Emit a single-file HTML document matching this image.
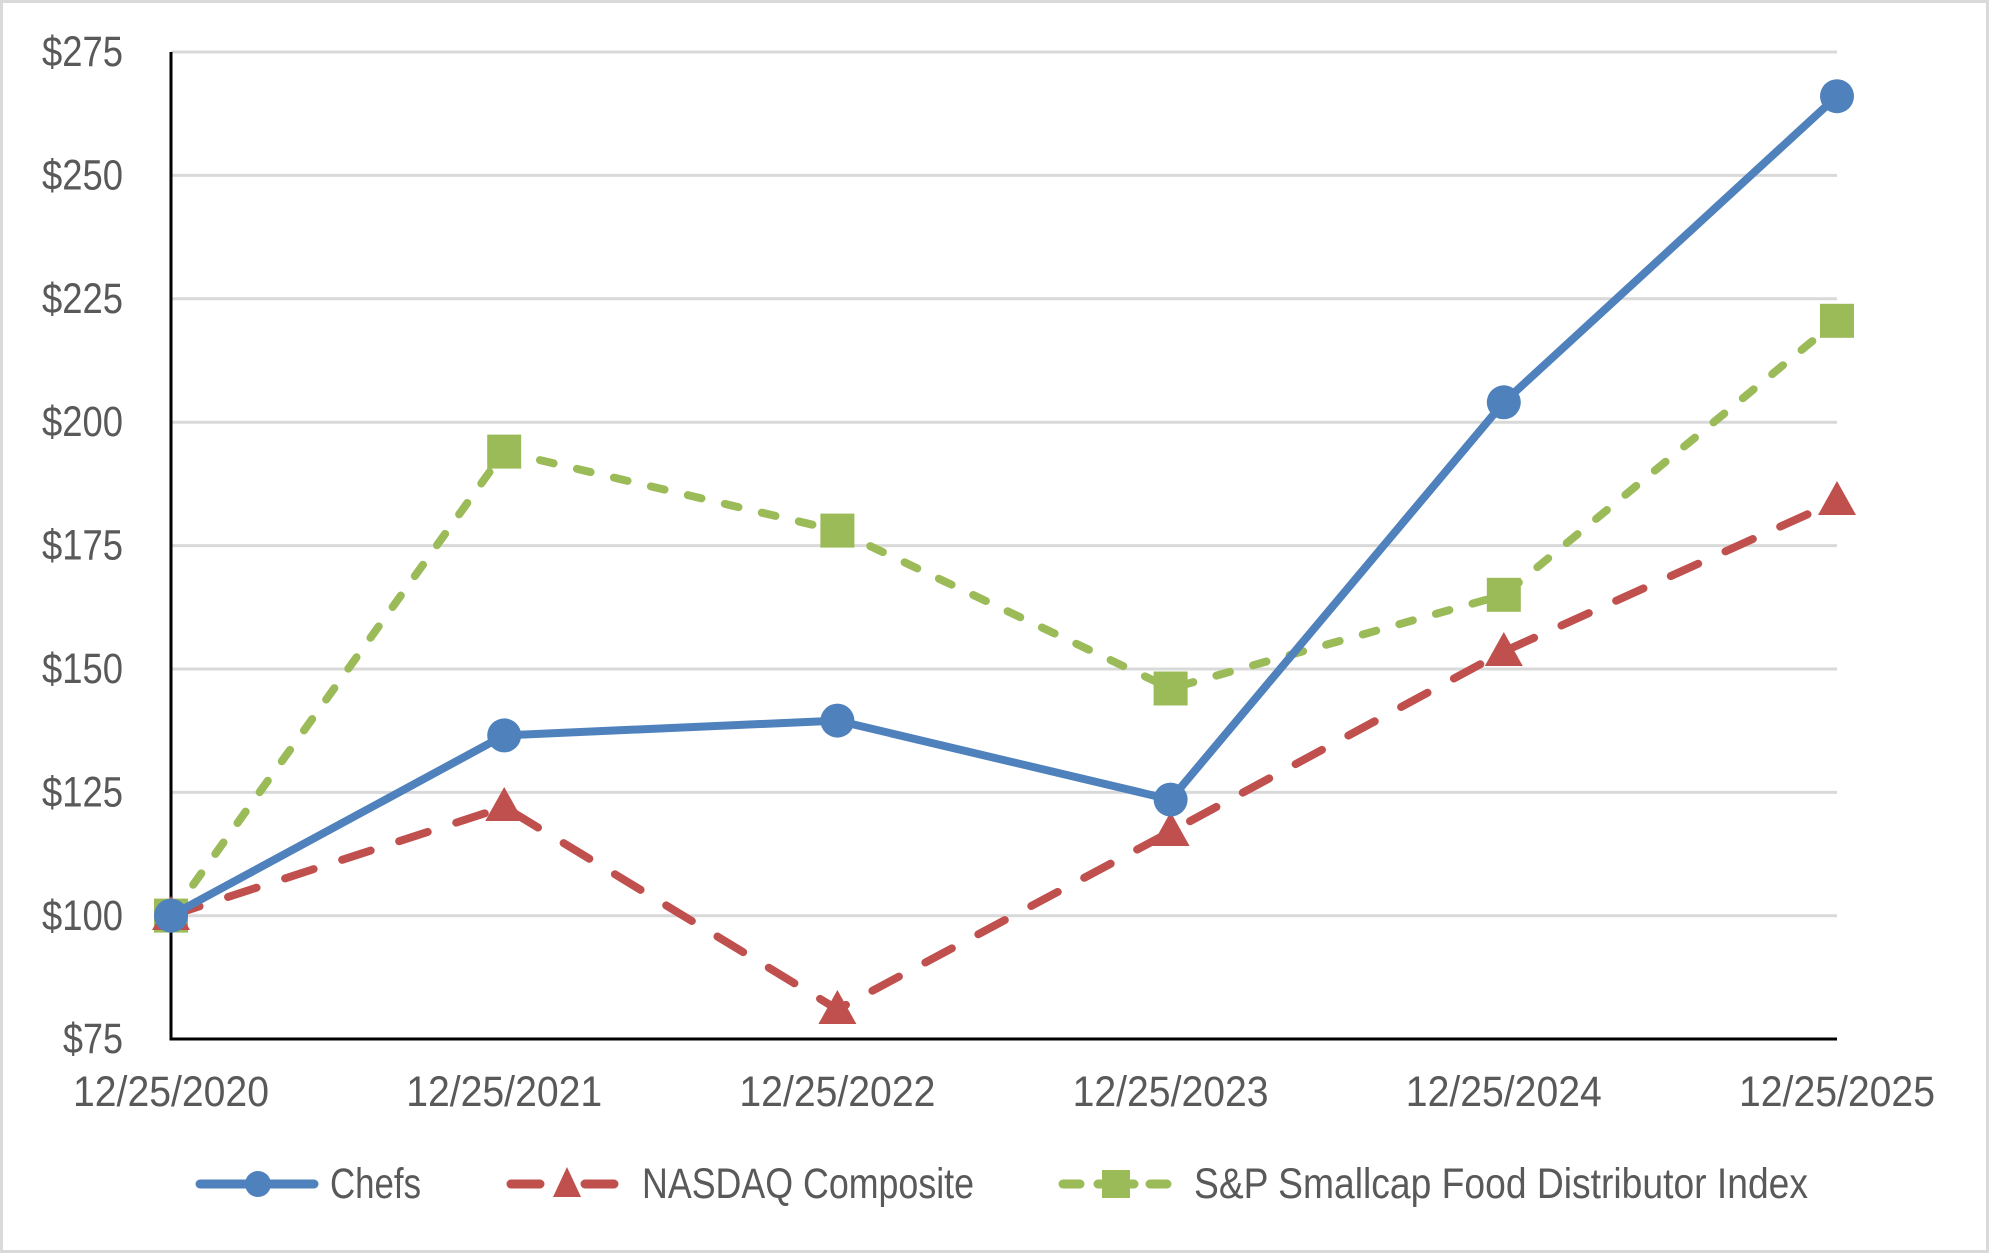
<!DOCTYPE html>
<html><head><meta charset="utf-8"><style>
html,body{margin:0;padding:0;background:#fff}
svg{display:block}
text{font-family:"Liberation Sans",sans-serif;fill:#595959}
</style></head><body>
<svg width="1989" height="1253" viewBox="0 0 1989 1253" xmlns="http://www.w3.org/2000/svg">
<rect x="1.5" y="1.5" width="1986" height="1250" fill="#fff" stroke="#d9d9d9" stroke-width="3"/>
<g stroke="#d9d9d9" stroke-width="3">
<line x1="171" y1="52" x2="1837" y2="52"/>
<line x1="171" y1="175.4" x2="1837" y2="175.4"/>
<line x1="171" y1="298.8" x2="1837" y2="298.8"/>
<line x1="171" y1="422.2" x2="1837" y2="422.2"/>
<line x1="171" y1="545.6" x2="1837" y2="545.6"/>
<line x1="171" y1="669" x2="1837" y2="669"/>
<line x1="171" y1="792.4" x2="1837" y2="792.4"/>
<line x1="171" y1="915.8" x2="1837" y2="915.8"/>
</g>
<polyline points="171,52 171,1039 1837,1039" fill="none" stroke="#000" stroke-width="3"/>
<g font-size="43" text-anchor="end">
<text x="123" y="66" textLength="81" lengthAdjust="spacingAndGlyphs">$275</text>
<text x="123" y="189.4" textLength="81" lengthAdjust="spacingAndGlyphs">$250</text>
<text x="123" y="312.8" textLength="81" lengthAdjust="spacingAndGlyphs">$225</text>
<text x="123" y="436.2" textLength="81" lengthAdjust="spacingAndGlyphs">$200</text>
<text x="123" y="559.6" textLength="81" lengthAdjust="spacingAndGlyphs">$175</text>
<text x="123" y="683" textLength="81" lengthAdjust="spacingAndGlyphs">$150</text>
<text x="123" y="806.4" textLength="81" lengthAdjust="spacingAndGlyphs">$125</text>
<text x="123" y="929.8" textLength="81" lengthAdjust="spacingAndGlyphs">$100</text>
<text x="123" y="1053" textLength="60" lengthAdjust="spacingAndGlyphs">$75</text>
</g>
<g font-size="43" text-anchor="middle">
<text x="171" y="1106" textLength="196" lengthAdjust="spacingAndGlyphs">12/25/2020</text>
<text x="504.2" y="1106" textLength="196" lengthAdjust="spacingAndGlyphs">12/25/2021</text>
<text x="837.4" y="1106" textLength="196" lengthAdjust="spacingAndGlyphs">12/25/2022</text>
<text x="1170.6" y="1106" textLength="196" lengthAdjust="spacingAndGlyphs">12/25/2023</text>
<text x="1503.8" y="1106" textLength="196" lengthAdjust="spacingAndGlyphs">12/25/2024</text>
<text x="1837" y="1106" textLength="196" lengthAdjust="spacingAndGlyphs">12/25/2025</text>
</g>
<!-- S&P -->
<polyline points="171,915.6 504.2,451.6 837.4,530.6 1170.6,688.5 1503.8,594.8 1837,320.8" fill="none" stroke="#9bbb59" stroke-width="8" stroke-dasharray="14 24" stroke-linecap="round" stroke-linejoin="round"/>
<g fill="#9bbb59">
<rect x="154" y="898.6" width="34" height="34"/>
<rect x="487.2" y="434.6" width="34" height="34"/>
<rect x="820.4" y="513.6" width="34" height="34"/>
<rect x="1153.6" y="671.5" width="34" height="34"/>
<rect x="1486.8" y="577.8" width="34" height="34"/>
<rect x="1820" y="303.8" width="34" height="34"/>
</g>
<!-- NASDAQ -->
<polyline points="171,915.6 504.2,807 837.4,1009.4 1170.6,831.7 1503.8,651.5 1837,501" fill="none" stroke="#c0504d" stroke-width="8" stroke-dasharray="30 30" stroke-linecap="round" stroke-linejoin="round"/>
<g fill="#c0504d">
<polygon points="171,896 190,930 152,930"/>
<polygon points="504.2,787 523.2,821 485.2,821"/>
<polygon points="837.4,990 856.4,1024 818.4,1024"/>
<polygon points="1170.6,812 1189.6,846 1151.6,846"/>
<polygon points="1503.8,632 1522.8,666 1484.8,666"/>
<polygon points="1837,481 1856,515 1818,515"/>
</g>
<!-- Chefs -->
<polyline points="171,915.6 504.2,735.4 837.4,720.6 1170.6,799.6 1503.8,402.3 1837,96.2" fill="none" stroke="#4f81bd" stroke-width="8" stroke-linejoin="round"/>
<g fill="#4f81bd">
<circle cx="171" cy="915.6" r="17"/>
<circle cx="504.2" cy="735.4" r="17"/>
<circle cx="837.4" cy="720.6" r="17"/>
<circle cx="1170.6" cy="799.6" r="17"/>
<circle cx="1503.8" cy="402.3" r="17"/>
<circle cx="1837" cy="96.2" r="17"/>
</g>
<!-- legend -->
<line x1="200" y1="1184" x2="314" y2="1184" stroke="#4f81bd" stroke-width="9" stroke-linecap="round"/>
<circle cx="258" cy="1184" r="13" fill="#4f81bd"/>
<text x="330" y="1198" font-size="43" textLength="91" lengthAdjust="spacingAndGlyphs">Chefs</text>
<line x1="511" y1="1184" x2="540" y2="1184" stroke="#c0504d" stroke-width="9" stroke-linecap="round"/>
<line x1="585" y1="1184" x2="614" y2="1184" stroke="#c0504d" stroke-width="9" stroke-linecap="round"/>
<polygon points="567,1167 581,1197 553,1197" fill="#c0504d"/>
<text x="642" y="1198" font-size="43" textLength="332" lengthAdjust="spacingAndGlyphs">NASDAQ Composite</text>
<line x1="1063" y1="1184" x2="1080" y2="1184" stroke="#9bbb59" stroke-width="9" stroke-linecap="round"/>
<line x1="1150" y1="1184" x2="1167" y2="1184" stroke="#9bbb59" stroke-width="9" stroke-linecap="round"/>
<line x1="1098" y1="1184" x2="1134" y2="1184" stroke="#9bbb59" stroke-width="9" stroke-linecap="round"/>
<rect x="1102" y="1170" width="28" height="28" fill="#9bbb59"/>
<text x="1194" y="1198" font-size="43" textLength="614" lengthAdjust="spacingAndGlyphs">S&amp;P Smallcap Food Distributor Index</text>
</svg>
</body></html>
